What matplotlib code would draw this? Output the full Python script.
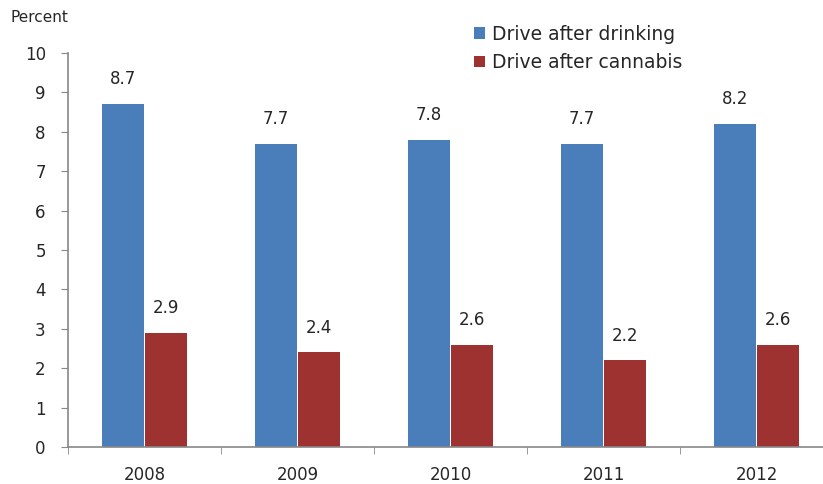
import matplotlib.pyplot as plt
import numpy as np

years = ['2008', '2009', '2010', '2011', '2012']
drinking = [8.7, 7.7, 7.8, 7.7, 8.2]
cannabis = [2.9, 2.4, 2.6, 2.2, 2.6]

plt.rcParams['font.family'] = ['DejaVu Sans']
plt.rcParams['text.color'] = '#262626'

fig = plt.figure(figsize=(8.23, 4.84), dpi=100)
# axes runs off the right edge a bit
ax = fig.add_axes([68 / 823, 37 / 484, 765 / 823, 394 / 484])

x = np.arange(len(years))
w = 0.275
b1 = ax.bar(x - 0.14, drinking, w, color='#4A7EBB', label='Drive after drinking')
b2 = ax.bar(x + 0.14, cannabis, w, color='#9E3230', label='Drive after cannabis')

for bars, vals in [(b1, drinking), (b2, cannabis)]:
    for r, v in zip(bars, vals):
        ax.text(r.get_x() + r.get_width() / 2, v + 0.4, f'{v:.1f}',
                ha='center', va='bottom', fontsize=12)

ax.set_xlim(-0.5, 4.5)
ax.set_ylim(0, 10)
ax.set_yticks(range(0, 11))
ax.set_xticks(x)
ax.set_xticklabels(years)
ax.set_xticks(np.arange(-0.5, 5, 1), minor=True)
ax.tick_params(axis='x', which='major', length=0, labelsize=12, pad=14,
               labelcolor='#262626')
ax.tick_params(axis='x', which='minor', length=5, direction='out', color='#888888')
ax.tick_params(axis='y', length=5, direction='out', color='#888888', labelsize=12,
               pad=11, labelcolor='#262626')

for s in ['top', 'right']:
    ax.spines[s].set_visible(False)
for s in ['left', 'bottom']:
    ax.spines[s].set_color('#888888')
    ax.spines[s].set_linewidth(1.2)

fig.text(10 / 823, 1 - 18 / 484, 'Percent', fontsize=11, va='center', ha='left')

ax.legend(loc='upper left', bbox_to_anchor=(467 / 823, 1 - 17 / 484),
          bbox_transform=fig.transFigure, frameon=False, fontsize=13.5,
          handlelength=0.55, handleheight=0.55, handletextpad=0.4,
          labelspacing=0.5, borderaxespad=0, labelcolor='#262626')

fig.savefig('out.png', dpi=100)
